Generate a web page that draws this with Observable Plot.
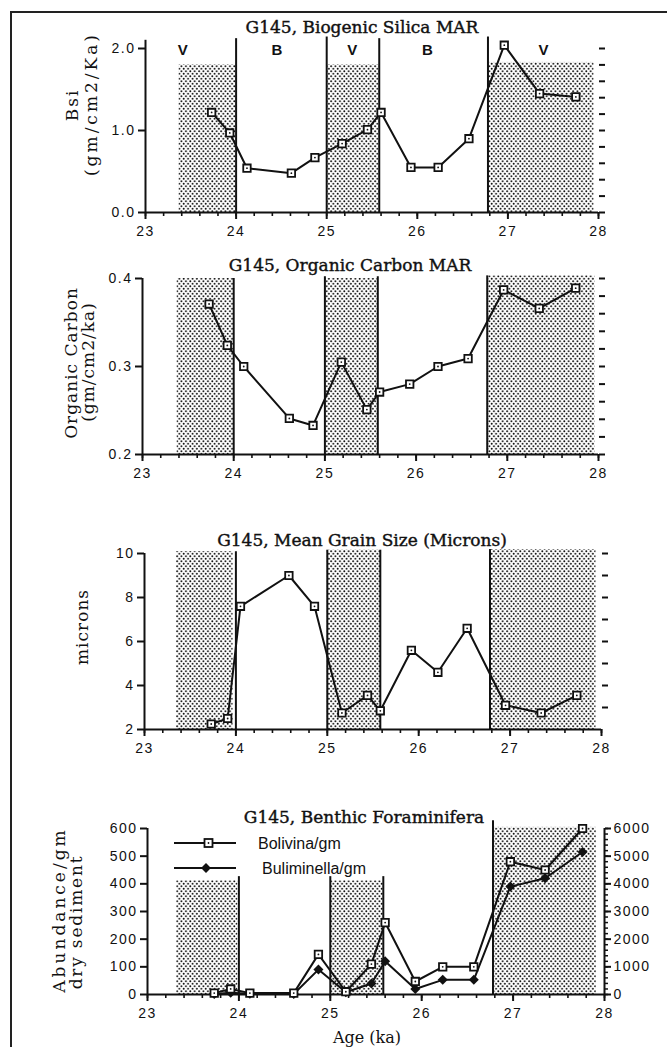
<!DOCTYPE html>
<html><head><meta charset="utf-8">
<script src="https://cdn.jsdelivr.net/npm/d3@7"></script>
<script src="https://cdn.jsdelivr.net/npm/@observablehq/plot@0.6"></script>
<style>
body{margin:0;background:#fff;}
#root{position:relative;width:667px;height:1047px;overflow:hidden;background:#fff;}
.panel{position:absolute;left:0;}
.panel svg text{letter-spacing:1.5px;}
.border{position:absolute;left:10px;top:11px;width:660px;height:1050px;border-top:2px solid #222;border-left:2px solid #222;}
.title{position:absolute;font-family:"DejaVu Serif";font-size:17px;transform:translate(-50%,-50%);white-space:nowrap;color:#111;-webkit-text-stroke:0.4px #111;}
.ylab{position:absolute;font-family:"DejaVu Serif";font-size:16px;white-space:nowrap;transform:translate(-50%,-50%) rotate(-90deg);color:#111;}
.xlab{position:absolute;font-family:"DejaVu Serif";font-size:16px;white-space:nowrap;transform:translate(-50%,-50%);color:#111;}
</style></head>
<body>
<svg width="0" height="0" style="position:absolute">
  <defs>
    <pattern id="stip" width="4.4" height="5.0" patternUnits="userSpaceOnUse">
      <circle cx="1.1" cy="1.25" r="0.95" fill="#111"/>
      <circle cx="3.3" cy="3.75" r="0.95" fill="#111"/>
    </pattern>
  </defs>
</svg>
<div id="root"><div class="border"></div></div>
<script>
// ---------------- data ----------------
const xMajor = [23, 24, 25, 26, 27, 28];

// Panel 1: Biogenic silica MAR
const bsiAges = [23.73, 23.93, 24.12, 24.61, 24.87, 25.17, 25.45, 25.6, 25.93, 26.23, 26.57, 26.96, 27.35, 27.75];
const bsiValues = [1.22, 0.97, 0.54, 0.48, 0.67, 0.84, 1.01, 1.22, 0.55, 0.55, 0.90, 2.04, 1.45, 1.41];
const bsiZoneStart = [23.37, 25.0, 26.78];
const bsiZoneEnd = [24.0, 25.58, 27.95];
const bsiZoneTop = [1.8, 1.8, 1.83];
const zoneLetters = ["V", "B", "V", "B", "V"];
const zoneLetterAges = [23.42, 24.46, 25.29, 26.12, 27.4];

// Panel 2: Organic carbon MAR
const ocAges = [23.73, 23.93, 24.11, 24.61, 24.87, 25.18, 25.46, 25.6, 25.93, 26.24, 26.57, 26.96, 27.35, 27.75];
const ocValues = [0.371, 0.324, 0.300, 0.241, 0.233, 0.305, 0.251, 0.271, 0.280, 0.300, 0.309, 0.387, 0.366, 0.389];
const ocZoneStart = [23.38, 25.0, 26.78];
const ocZoneEnd = [24.0, 25.58, 27.96];
const ocZoneTop = [0.4, 0.4, 0.403];

// Panel 3: Mean grain size
const grainAges = [23.73, 23.91, 24.05, 24.58, 24.86, 25.16, 25.44, 25.58, 25.92, 26.21, 26.53, 26.95, 27.34, 27.73];
const grainValues = [2.25, 2.5, 7.6, 9.0, 7.6, 2.75, 3.55, 2.85, 5.6, 4.6, 6.6, 3.1, 2.75, 3.55];
const grainZoneStart = [23.35, 25.0, 26.78];
const grainZoneEnd = [23.97, 25.59, 27.94];
const grainZoneTop = [10.08, 10.15, 10.18];

// Panel 4: Benthic foraminifera
const foramAges = [23.73, 23.91, 24.12, 24.6, 24.87, 25.17, 25.45, 25.6, 25.93, 26.23, 26.57, 26.97, 27.35, 27.76];
const bolivina = [5, 20, 5, 5, 145, 10, 110, 260, 47, 100, 100, 480, 450, 600];
const buliminella = [20, 60, 30, 20, 900, 80, 400, 1200, 200, 530, 530, 3900, 4200, 5150];
const foramZoneStart = [23.32, 25.01, 26.8];
const foramZoneEnd = [23.99, 25.58, 27.91];
const foramZoneTop = [411, 411, 604];
const legendLabels = ["Bolivina/gm", "Buliminella/gm"];

// boundaries (vertical lines)
const boundaryAges = [24.0, 25.0, 25.58, 26.78];
const bsiBoundTop = [2.12, 2.14, 2.12, 2.14];
const ocBoundTop = [0.4, 0.402, 0.402, 0.403];
const grainBoundTop = [10.08, 10.15, 10.15, 10.18];
const foramBoundTop = [426, 426, 426, 628];

// ---------------- helpers ----------------
const INK = "#111";
const root = document.getElementById("root");
function zones(s, e, t) { return s.map((d, i) => ({x1: d, x2: e[i], top: t[i]})); }
function bounds(t) { return boundaryAges.map((d, i) => ({x: d, top: t[i]})); }
function series(a, v) { return a.map((d, i) => ({age: d, v: v[i]})); }
function place(node, top) { const w = document.createElement("div"); w.className = "panel"; w.style.top = top + "px"; w.appendChild(node); root.appendChild(w); }
function html(cls, text, x, y, extra) { const d = document.createElement("div"); d.className = cls; d.textContent = text; d.style.left = x + "px"; d.style.top = y + "px"; if (extra) Object.assign(d.style, extra); root.appendChild(d); }

function commonMarks(ymin, zoneData, boundData, leftTop, yTicks, yFmt, rightTicks) {
  return [
    Plot.rect(zoneData, {x1: "x1", x2: "x2", y1: ymin, y2: "top", fill: "url(#stip)"}),
    Plot.ruleX(boundData, {x: "x", y1: ymin, y2: "top", stroke: INK, strokeWidth: 2}),
    Plot.ruleY([ymin], {stroke: INK, strokeWidth: 2}),
    Plot.ruleX([23], {y1: ymin, y2: leftTop, stroke: INK, strokeWidth: 2}),
    Plot.axisX({ticks: d3.range(23, 28.001, 0.2), tickSize: 4, tickFormat: () => "", strokeWidth: 1.6, label: null}),
    Plot.axisX({ticks: xMajor, tickSize: 7, tickPadding: 7, tickFormat: d => String(d), strokeWidth: 2, label: null, fontSize: 14}),
    Plot.axisY({ticks: yTicks, tickSize: 7, tickPadding: 3, tickFormat: yFmt, strokeWidth: 2, label: null, fontSize: 14}),
    Plot.axisY({anchor: "right", ticks: rightTicks, tickSize: 6, tickFormat: () => "", strokeWidth: 2, label: null})
  ];
}
function squareMarks(data) {
  return [
    Plot.line(data, {x: "age", y: "v", stroke: INK, strokeWidth: 2}),
    Plot.dot(data, {x: "age", y: "v", symbol: "square", r: 4.2, fill: "white", stroke: INK, strokeWidth: 1.8}),
    Plot.dot(data, {x: "age", y: "v", r: 0.9, fill: INK})
  ];
}
const style = {fontFamily: "Liberation Sans", fontSize: "14px", color: INK, background: "transparent", overflow: "visible"};

// ---------------- Panel 1 ----------------
place(Plot.plot({
  width: 667, height: 245, marginLeft: 145, marginRight: 69, marginTop: 48, marginBottom: 33,
  x: {domain: [23, 28]}, y: {domain: [0, 2]}, style,
  marks: [
    ...commonMarks(0, zones(bsiZoneStart, bsiZoneEnd, bsiZoneTop), bounds(bsiBoundTop), 2.1, [0, 1, 2], d => d.toFixed(1), d3.range(0, 2.001, 0.2)),
    Plot.text(zoneLetters.map((t, i) => ({t, x: zoneLetterAges[i]})), {x: "x", y: 1.98, text: "t", fontFamily: "Liberation Sans", fontWeight: "bold", fontSize: 15, fill: INK}),
    ...squareMarks(series(bsiAges, bsiValues))
  ]
}), 0);
html("title", "G145, Biogenic Silica MAR", 362, 27);
html("ylab", "Bsi", 72, 105, {fontSize: "17px", letterSpacing: "2px"});
html("ylab", "(gm/cm2/Ka)", 91, 104, {fontSize: "17px", letterSpacing: "3px"});

// ---------------- Panel 2 ----------------
place(Plot.plot({
  width: 667, height: 245, marginLeft: 142, marginRight: 69, marginTop: 38, marginBottom: 31,
  x: {domain: [23, 28]}, y: {domain: [0.2, 0.4]}, style,
  marks: [
    ...commonMarks(0.2, zones(ocZoneStart, ocZoneEnd, ocZoneTop), bounds(ocBoundTop), 0.4, [0.2, 0.3, 0.4], d => d.toFixed(1), d3.range(0.2, 0.4001, 0.02)),
    ...squareMarks(series(ocAges, ocValues))
  ]
}), 240);
html("title", "G145, Organic Carbon MAR", 350, 265);
html("ylab", "Organic Carbon", 71, 363, {fontSize: "17px", letterSpacing: "1px"});
html("ylab", "(gm/cm2/ka)", 88, 362, {fontSize: "17px", letterSpacing: "1px"});

// ---------------- Panel 3 ----------------
place(Plot.plot({
  width: 667, height: 262, marginLeft: 144, marginRight: 66, marginTop: 53, marginBottom: 33,
  x: {domain: [23, 28]}, y: {domain: [2, 10]}, style,
  marks: [
    ...commonMarks(2, zones(grainZoneStart, grainZoneEnd, grainZoneTop), bounds(grainBoundTop), 10, [2, 4, 6, 8, 10], d => String(d), d3.range(3, 10.01, 1)),
    ...squareMarks(series(grainAges, grainValues))
  ]
}), 500);
html("title", "G145, Mean Grain Size (Microns)", 362, 540);
html("ylab", "microns", 82, 627, {fontSize: "17px", letterSpacing: "1px"});

// ---------------- Panel 4 ----------------
const bolData = series(foramAges, bolivina);
const bulData = series(foramAges, buliminella);
place(Plot.plot({
  width: 667, height: 277, marginLeft: 147, marginRight: 63, marginTop: 58, marginBottom: 53,
  x: {domain: [23, 28]}, y: {domain: [0, 600]}, style,
  marks: [
    Plot.rect(zones(foramZoneStart, foramZoneEnd, foramZoneTop), {x1: "x1", x2: "x2", y1: 0, y2: "top", fill: "url(#stip)"}),
    Plot.ruleX(bounds(foramBoundTop), {x: "x", y1: 0, y2: "top", stroke: INK, strokeWidth: 2}),
    Plot.ruleY([0], {stroke: INK, strokeWidth: 2}),
    Plot.ruleX([23], {y1: 0, y2: 600, stroke: INK, strokeWidth: 2}),
    Plot.ruleX([28], {y1: 0, y2: 600, stroke: INK, strokeWidth: 2}),
    Plot.axisX({ticks: d3.range(23, 28.001, 0.2), tickSize: 4, tickFormat: () => "", strokeWidth: 1.6, label: null}),
    Plot.axisX({ticks: xMajor, tickSize: 7, tickPadding: 7, tickFormat: d => String(d), strokeWidth: 2, label: null, fontSize: 14}),
    Plot.axisY({ticks: d3.range(0, 601, 100), tickSize: 7, tickPadding: 3, strokeWidth: 2, label: null, fontSize: 14}),
    Plot.axisY({anchor: "right", ticks: d3.range(0, 601, 20), tickSize: 3, tickFormat: () => "", strokeWidth: 1.5, label: null}),
    Plot.axisY({anchor: "right", ticks: d3.range(0, 601, 100), tickSize: 6, tickPadding: 3, tickFormat: d => String(d * 10), strokeWidth: 2, label: null, fontSize: 14}),
    // Buliminella on the right axis (0–6000 shares the 0–600 scale)
    Plot.line(bulData, {x: "age", y: d => d.v / 10, stroke: INK, strokeWidth: 2}),
    Plot.dot(bulData, {x: "age", y: d => d.v / 10, symbol: "square", rotate: 45, r: 4, fill: INK}),
    ...squareMarks(bolData)
  ]
}), 770);
html("title", "G145, Benthic Foraminifera", 364, 817);
html("ylab", "Abundance/gm", 59, 910, {fontSize: "17px", letterSpacing: "3px"});
html("ylab", "dry sediment", 76, 922, {fontSize: "17px", letterSpacing: "1.8px"});
html("xlab", "Age (ka)", 367, 1037);

// legend
const lg = d3.create("svg").attr("width", 260).attr("height", 50)
  .style("position", "absolute").style("left", "170px").style("top", "830px");
legendLabels.forEach((label, i) => {
  const y = 13 + i * 25;
  lg.append("line").attr("x1", 4).attr("x2", 66).attr("y1", y).attr("y2", y).attr("stroke", INK).attr("stroke-width", 1.8);
  if (i === 0) {
    lg.append("rect").attr("x", 34.5).attr("y", y - 4).attr("width", 8).attr("height", 8).attr("fill", "white").attr("stroke", INK).attr("stroke-width", 1.8);
    lg.append("circle").attr("cx", 38.5).attr("cy", y).attr("r", 0.9).attr("fill", INK);
  } else {
    lg.append("rect").attr("x", -3.5).attr("y", -3.5).attr("width", 7).attr("height", 7)
      .attr("transform", `translate(36,${y}) rotate(45)`).attr("fill", INK);
  }
  lg.append("text").attr("x", 88 + i * 4).attr("y", y).attr("dy", "0.35em")
    .attr("font-family", "Liberation Sans").attr("font-size", 16).attr("fill", INK).text(label);
});
root.appendChild(lg.node());
</script>
</body></html>
